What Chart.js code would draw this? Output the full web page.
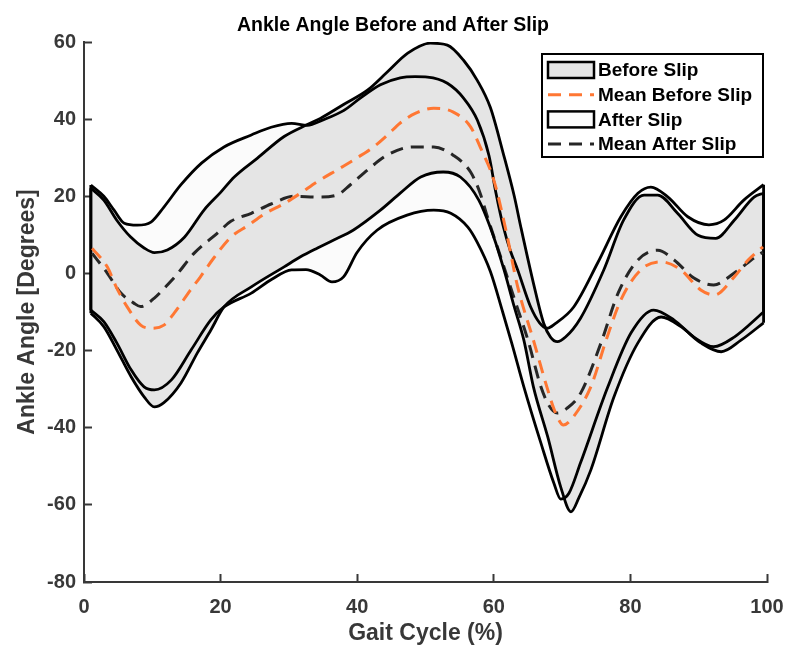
<!DOCTYPE html>
<html>
<head>
<meta charset="utf-8">
<script src="https://cdn.jsdelivr.net/npm/chart.js@4.4.1/dist/chart.umd.min.js"></script>
<style>
  html, body { margin: 0; padding: 0; background: #fff; }
</style>
</head>
<body>
<canvas id="ankleChart" width="787" height="645"></canvas>
<script>
// ---- data (gait cycle %, ankle angle in degrees) ----
const beforeUpperX = [1, 2.9, 4.8, 6.8, 8.8, 10.3, 12.2, 14.7, 17.6, 20, 22, 25.4, 29.3, 32.7, 34.6, 38, 41.5, 44.4, 47.4, 50.7, 53.2, 55.6, 57.6, 59.5, 61.4, 63, 63.9, 65.8, 67.3, 68.3, 69.3, 70.5, 72.7, 76.1, 79, 82, 84, 86.9, 89.9, 92.5, 95.2, 98.1, 99.5];
const beforeUpperY = [22.1, 19, 13.8, 9.5, 6.6, 5.4, 6.1, 9.4, 16.5, 21, 25, 29.9, 35.5, 38.6, 40.2, 43.8, 47.5, 52.2, 57.1, 59.7, 59.2, 55.2, 50, 43, 31, 20, 12.5, -2.5, -12.9, -16.5, -17.7, -16.5, -11.6, 0.9, 13.8, 20.3, 20.3, 15.6, 9.9, 9.1, 13.8, 19.8, 20.8];

const beforeLowerX = [1, 2.9, 4.8, 6.9, 8.8, 10.3, 11.7, 14.2, 16.6, 18.6, 20.5, 24.5, 29.3, 31.7, 34.2, 36.5, 39.4, 43.4, 46.3, 49.3, 52.6, 55.1, 57.8, 60, 61.5, 63, 64.4, 65.8, 67.9, 69.8, 71.3, 72.5, 74.2, 77.6, 81.1, 84.5, 87.4, 90.3, 93.3, 96.2, 99.5];
const beforeLowerY = [-10.3, -13.8, -19.8, -26.8, -32, -34.6, -33.5, -28.4, -20.6, -14.6, -8.7, -3.5, 1.7, 4.3, 6.6, 8.6, 11.2, 16.4, 20.8, 25, 26.3, 25, 19, 9.4, 0.9, -8.7, -17.3, -29.4, -42.4, -55.4, -61.8, -58, -51, -32, -18, -11.3, -13.8, -18, -20.3, -17.3, -12.8];

const afterUpperX = [1, 2.9, 4.4, 5.9, 7.8, 9.8, 11.7, 14.2, 17.2, 20.5, 24.5, 27.4, 30.4, 32.7, 35, 38, 40.5, 43.4, 46.3, 48.5, 50.3, 53.2, 55.6, 57.6, 59.3, 60.3, 61.4, 62.4, 63.5, 65.4, 66.7, 67.8, 69, 71.7, 75.2, 78.6, 81.1, 83, 85.5, 88.4, 91.5, 93.7, 96.6, 99.5];
const afterUpperY = [22.9, 20, 16.4, 13, 12.5, 13.3, 17.2, 23, 28.6, 32.8, 35.9, 37.9, 38.9, 38.4, 39.8, 42.2, 45.5, 48.9, 50.7, 51, 50.9, 49.3, 45.4, 39.7, 30.5, 21, 12.1, 6, 0.9, -8.7, -12.8, -14.2, -13, -8.7, 2.7, 14.7, 20.8, 22.4, 19.8, 14.7, 12.6, 13.8, 19, 23];

const afterLowerX = [1, 2.9, 4.8, 6.9, 8.8, 10.3, 12.8, 15.7, 18.6, 20.5, 24.5, 27.5, 30.4, 32.5, 34.6, 36.3, 38, 40, 42.9, 47.3, 51.2, 53.7, 56.2, 57.5, 59.5, 61.3, 62.7, 64.4, 66.9, 68.8, 69.8, 71, 72.7, 76.7, 80.1, 83.4, 86.4, 89.3, 92.2, 95.2, 99.5];
const afterLowerY = [-9.5, -12.5, -18, -25, -29.4, -30.2, -27.6, -19.8, -12, -8.7, -5.1, -1.5, 0.9, 1, -0.4, -2.2, -0.9, 5.5, 11.2, 15.1, 16.4, 15.6, 12, 8.3, 0.5, -10, -18.5, -29.4, -44, -54.4, -58.5, -57, -49.1, -29.4, -15.4, -9.5, -12.1, -16.5, -19, -16.5, -10];

const meanBeforeX = [1.2, 3.4, 4.8, 6.3, 8.3, 9.8, 11.7, 13.2, 15.5, 17, 19, 21.5, 24, 26.5, 29.3, 31.7, 34, 37.5, 40, 42.4, 44.5, 46.3, 48.5, 51.2, 54, 56.6, 58, 60, 61.8, 63.5, 65.8, 67.9, 69, 70.2, 71.5, 74.2, 76.5, 78.6, 81.5, 84.5, 87.4, 90.3, 92.3, 95.2, 97.2, 99.4];
const meanBeforeY = [6.5, 1.7, -3.8, -8.6, -13.4, -14.2, -13.4, -10.3, -4.5, -1, 4, 9.4, 12.4, 15.5, 18.1, 20.8, 23.6, 27.3, 30, 32.8, 36, 39, 41.5, 42.8, 41.9, 38, 32.8, 24.2, 11, -3.5, -17.3, -30.2, -36, -39.3, -37.5, -29.4, -17, -6.9, 0.9, 3, 0.9, -4.3, -5.6, -0.9, 3.4, 6.9];

const meanAfterX = [1.2, 3.4, 5.4, 7.3, 8.3, 10.3, 12.2, 13.5, 16.1, 19.5, 21.5, 24.5, 27.4, 30.8, 34.2, 37, 39, 41.5, 44.4, 48.2, 51.2, 54, 56.6, 58, 59, 61, 62.9, 65, 66.9, 68, 69.3, 70.7, 72.7, 75.7, 78.2, 81.1, 84, 86.4, 89.3, 92.2, 95.2, 98.7, 99.4];
const meanAfterY = [5.2, 0.1, -5.1, -7.7, -8.6, -6.4, -3, -0.5, 5.2, 10.4, 13.5, 15.6, 18, 20, 19.8, 20.3, 23, 26.8, 30.7, 32.8, 32.8, 30.7, 26.3, 20.8, 15, 4.3, -6, -17.3, -29.4, -34, -36.2, -35, -31.1, -18, -5.1, 3.5, 6, 3.5, -1.2, -3, 0.1, 4.8, 5.5];

const xTicks = [0, 20, 40, 60, 80, 100];
const yTicks = [-80, -60, -40, -20, 0, 20, 40, 60];

// ---- helpers ----
function pts(xs, ys) {
    return xs.map((x, i) => ({ x: x, y: ys[i] }));
}

// closing edges of a band: joins the first (or last) points of its two bounds
function edge(upX, upY, loX, loY, last) {
    const a = last ? upX.length - 1 : 0;
    const b = last ? loX.length - 1 : 0;
    return [{ x: upX[a], y: upY[a] }, { x: loX[b], y: loY[b] }];
}

const FONT = "'Liberation Sans', Arial, sans-serif";
const AXIS_GRAY = '#383838';

const bandLine = {
    borderColor: '#000',
    borderWidth: 2.8,
    pointRadius: 0,
    cubicInterpolationMode: 'monotone'
};

// ---- legend drawn inside the axes, with a box around it ----
const boxLegend = {
    id: 'boxLegend',
    afterDraw(chart) {
        const c = chart.ctx;
        const area = chart.chartArea;
        const items = chart.data.datasets.filter(d => d.inLegend);
        const w = 221, h = 103;
        const left = area.right - w - 4;
        const top = area.top + 12;
        const rowH = 24.7;

        c.save();
        c.fillStyle = '#fff';
        c.fillRect(left, top, w, h);
        c.lineWidth = 2;
        c.strokeStyle = '#000';
        c.strokeRect(left, top, w, h);

        c.font = 'bold 19px ' + FONT;
        c.textBaseline = 'middle';
        items.forEach((d, i) => {
            const cy = top + 16 + i * rowH;
            const sx = left + 6;
            if (d.isBand) {
                c.fillStyle = d.backgroundColor;
                c.fillRect(sx, cy - 8, 46, 16);
                c.lineWidth = 2.5;
                c.strokeStyle = '#000';
                c.setLineDash([]);
                c.strokeRect(sx, cy - 8, 46, 16);
            } else {
                c.strokeStyle = d.borderColor;
                c.lineWidth = d.borderWidth;
                c.setLineDash(d.borderDash);
                c.beginPath();
                c.moveTo(sx, cy);
                c.lineTo(sx + 46, cy);
                c.stroke();
                c.setLineDash([]);
            }
            c.fillStyle = '#000';
            c.fillText(d.label, sx + 50, cy + 1);
        });
        c.restore();
    }
};

const ctx = document.getElementById('ankleChart').getContext('2d');

const ankleChart = new Chart(ctx, {
    type: 'line',
    data: {
        datasets: [
            Object.assign({
                label: 'Before Slip',
                data: pts(beforeUpperX, beforeUpperY),
                fill: '+1',
                backgroundColor: '#e5e5e5',
                inLegend: true,
                isBand: true
            }, bandLine),
            Object.assign({
                label: 'before lower',
                data: pts(beforeLowerX, beforeLowerY),
                fill: false
            }, bandLine),
            {
                label: 'Mean Before Slip',
                data: pts(meanBeforeX, meanBeforeY),
                borderColor: '#ff7733',
                borderWidth: 3,
                borderDash: [13, 8],
                pointRadius: 0,
                fill: false,
                cubicInterpolationMode: 'monotone',
                inLegend: true
            },
            Object.assign({
                label: 'After Slip',
                data: pts(afterUpperX, afterUpperY),
                fill: '+1',
                backgroundColor: '#fbfbfb',
                inLegend: true,
                isBand: true
            }, bandLine),
            Object.assign({
                label: 'after lower',
                data: pts(afterLowerX, afterLowerY),
                fill: false
            }, bandLine),
            {
                label: 'Mean After Slip',
                data: pts(meanAfterX, meanAfterY),
                borderColor: '#262626',
                borderWidth: 3,
                borderDash: [13, 8],
                pointRadius: 0,
                fill: false,
                cubicInterpolationMode: 'monotone',
                inLegend: true
            },
            // the vertical closing edges of the two shaded bands
            { label: 'edge', data: edge(beforeUpperX, beforeUpperY, beforeLowerX, beforeLowerY, false), borderColor: '#000', borderWidth: 2.8, pointRadius: 0, fill: false },
            { label: 'edge', data: edge(beforeUpperX, beforeUpperY, beforeLowerX, beforeLowerY, true), borderColor: '#000', borderWidth: 2.8, pointRadius: 0, fill: false },
            { label: 'edge', data: edge(afterUpperX, afterUpperY, afterLowerX, afterLowerY, false), borderColor: '#000', borderWidth: 2.8, pointRadius: 0, fill: false },
            { label: 'edge', data: edge(afterUpperX, afterUpperY, afterLowerX, afterLowerY, true), borderColor: '#000', borderWidth: 2.8, pointRadius: 0, fill: false }
        ]
    },
    options: {
        responsive: false,
        animation: false,
        devicePixelRatio: 1,
        layout: { padding: { left: 0, right: 1, top: 0, bottom: 0 } },
        plugins: {
            legend: { display: false },
            tooltip: { enabled: false },
            filler: { drawTime: 'beforeDatasetsDraw' },
            title: {
                display: true,
                text: 'Ankle Angle Before and After Slip',
                color: '#000',
                font: { family: FONT, size: 19.5, weight: 'bold', lineHeight: 1.2 },
                padding: { top: 14, bottom: 4.6 }
            }
        },
        scales: {
            x: {
                type: 'linear',
                min: 0,
                max: 100,
                afterBuildTicks: s => { s.ticks = xTicks.map(v => ({ value: v })); },
                afterFit: s => { s.height = 63; s.paddingLeft = 0; s.paddingRight = 20; },
                border: { color: AXIS_GRAY, width: 2 },
                grid: { drawOnChartArea: false, tickLength: -8, tickWidth: 2, color: AXIS_GRAY },
                ticks: {
                    padding: 21,
                    color: AXIS_GRAY,
                    maxRotation: 0,
                    font: { family: FONT, size: 20, weight: 'bold' }
                },
                title: {
                    display: true,
                    text: 'Gait Cycle (%)',
                    color: AXIS_GRAY,
                    font: { family: FONT, size: 23, weight: 'bold', lineHeight: 1 },
                    padding: { top: 0, bottom: 0 }
                }
            },
            y: {
                type: 'linear',
                min: -80,
                max: 60,
                afterBuildTicks: s => { s.ticks = yTicks.map(v => ({ value: v })); },
                afterFit: s => { s.width = 84; s.paddingTop = 0; s.paddingBottom = 0; },
                border: { color: AXIS_GRAY, width: 2 },
                grid: { drawOnChartArea: false, tickLength: -8, tickWidth: 2, color: AXIS_GRAY },
                ticks: {
                    padding: 16,
                    color: AXIS_GRAY,
                    font: { family: FONT, size: 20, weight: 'bold' }
                },
                title: {
                    display: true,
                    text: 'Ankle Angle [Degrees]',
                    color: AXIS_GRAY,
                    font: { family: FONT, size: 23, weight: 'bold', lineHeight: 1 },
                    padding: { top: 16, bottom: 0 }
                }
            }
        }
    },
    plugins: [boxLegend]
});
</script>
</body>
</html>
